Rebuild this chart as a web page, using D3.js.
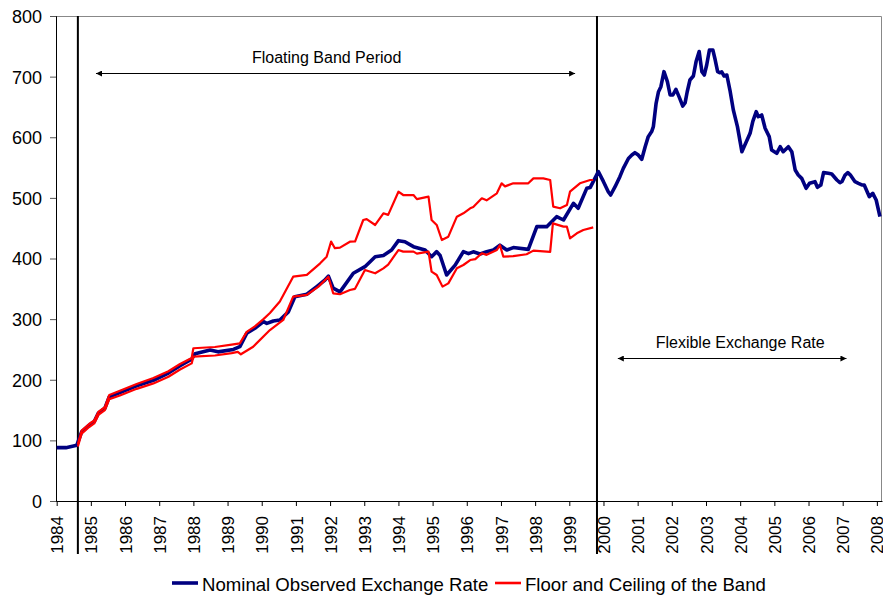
<!DOCTYPE html>
<html>
<head>
<meta charset="utf-8">
<script src="https://cdn.jsdelivr.net/npm/d3@7"></script>
<style>
  body { margin: 0; background: #fff; }
  svg text { font-family: Arial, "Liberation Sans", sans-serif; fill: #000; }
</style>
</head>
<body>
<div id="chart"></div>
<script>
// Year ticks on the x axis
var yearTicks = d3.range(1984, 2009);
var valueTicks = [0, 100, 200, 300, 400, 500, 600, 700, 800];

// Nominal observed exchange rate [decimal year, pesos per dollar]
var observed = [
  [1984.00, 88], [1984.27, 88], [1984.59, 92], [1984.73, 114], [1984.95, 125],
  [1985.10, 131], [1985.22, 145], [1985.41, 153], [1985.54, 172], [1985.85, 179],
  [1986.34, 190], [1986.83, 199], [1987.27, 211], [1987.61, 223], [1987.95, 234],
  [1988.05, 243], [1988.49, 249], [1988.72, 246], [1989.17, 250], [1989.36, 254.5],
  [1989.56, 276.6], [1989.80, 285], [1990.05, 296], [1990.15, 293], [1990.34, 297],
  [1990.53, 298.6], [1990.78, 312], [1990.97, 337], [1991.32, 341], [1991.61, 353.6],
  [1991.85, 364.5], [1991.95, 371], [1992.09, 351], [1992.29, 345], [1992.68, 375.6],
  [1993.02, 386.5], [1993.32, 403], [1993.56, 405], [1993.80, 414], [1994.00, 429.4],
  [1994.19, 427.7], [1994.44, 419.5], [1994.78, 414], [1994.97, 403], [1995.12, 411.3],
  [1995.22, 405], [1995.41, 372.8], [1995.66, 389], [1995.90, 411.3], [1996.05, 408],
  [1996.19, 411], [1996.39, 407.5], [1996.58, 411], [1996.78, 414], [1996.97, 422],
  [1997.17, 414], [1997.36, 418], [1997.80, 415], [1998.05, 452.5], [1998.34, 452.5],
  [1998.63, 469], [1998.83, 463.5], [1999.12, 491], [1999.26, 482.8], [1999.51, 515.7],
  [1999.61, 517], [1999.85, 543.2], [2000.00, 526.7], [2000.14, 510.2], [2000.21, 504.7],
  [2000.34, 518.4], [2000.48, 535], [2000.58, 548.6], [2000.73, 565], [2000.83, 570.7],
  [2000.92, 574.5], [2001.02, 570.7], [2001.12, 563.6], [2001.22, 584.4], [2001.31, 601],
  [2001.41, 609.3], [2001.46, 617.6], [2001.54, 656], [2001.61, 675.1], [2001.68, 683.4],
  [2001.77, 708.2], [2001.87, 691.7], [2001.95, 669.7], [2002.03, 669.7], [2002.12, 679],
  [2002.21, 667], [2002.32, 651.5], [2002.39, 657], [2002.45, 675.1], [2002.53, 694.4],
  [2002.63, 701], [2002.71, 724.8], [2002.80, 741.3], [2002.88, 708.2], [2002.95, 702.7],
  [2003.02, 719.2], [2003.10, 744], [2003.20, 744], [2003.27, 727.4], [2003.34, 708.2],
  [2003.41, 706.4], [2003.46, 708], [2003.53, 701], [2003.61, 702.7], [2003.70, 677.9],
  [2003.80, 645], [2003.92, 617.6], [2004.05, 576.2], [2004.16, 590], [2004.29, 606.5],
  [2004.37, 626.2], [2004.47, 642.2], [2004.53, 633.9], [2004.63, 636.7], [2004.73, 614.8],
  [2004.85, 601], [2004.92, 579], [2005.07, 573.5], [2005.17, 584.4], [2005.26, 576.2],
  [2005.41, 584.4], [2005.51, 576.2], [2005.61, 546], [2005.70, 537.7], [2005.80, 532.2],
  [2005.93, 515.7], [2006.03, 524], [2006.19, 526.7], [2006.26, 517.4], [2006.36, 521.2],
  [2006.44, 541.6], [2006.58, 540.6], [2006.68, 539.4], [2006.83, 529.5], [2006.92, 525],
  [2006.98, 527], [2007.07, 537.7], [2007.15, 541.6], [2007.22, 538], [2007.36, 526.7],
  [2007.46, 524], [2007.56, 521.5], [2007.63, 521.2], [2007.78, 502], [2007.88, 507.5],
  [2007.98, 496.5], [2008.09, 469]
];

// Ceiling of the band
var ceiling = [
  [1984.62, 94], [1984.73, 116], [1984.95, 127], [1985.10, 133], [1985.22, 147],
  [1985.41, 155], [1985.54, 175], [1985.85, 182], [1986.34, 193], [1986.83, 203],
  [1987.27, 214], [1987.61, 226], [1987.95, 236], [1988.00, 252], [1988.63, 254],
  [1989.12, 258], [1989.36, 260], [1989.56, 279], [1989.80, 288], [1990.05, 300],
  [1990.24, 310], [1990.53, 329], [1990.92, 370], [1991.32, 373], [1991.71, 392],
  [1991.90, 403], [1992.03, 428], [1992.14, 417], [1992.29, 418], [1992.58, 427.7],
  [1992.73, 428], [1992.97, 463.5], [1993.07, 465], [1993.32, 455.3], [1993.56, 474.6],
  [1993.70, 472], [1994.00, 510.2], [1994.14, 504.7], [1994.44, 504.7], [1994.54, 498],
  [1994.88, 502], [1994.97, 463.5], [1995.12, 455.3], [1995.27, 430.5], [1995.46, 436],
  [1995.71, 469], [1995.90, 474.6], [1996.10, 482.8], [1996.19, 485], [1996.44, 499.3],
  [1996.58, 496], [1996.88, 507.5], [1997.02, 524], [1997.12, 519], [1997.36, 524],
  [1997.80, 524], [1997.95, 532.2], [1998.24, 532.2], [1998.44, 529.5], [1998.53, 485.5],
  [1998.73, 482.8], [1998.93, 488.2], [1999.02, 510.2], [1999.31, 524], [1999.61, 529.5],
  [1999.70, 529.5]
];

// Floor of the band
var floor = [
  [1984.62, 90], [1984.73, 111], [1984.95, 122], [1985.10, 128], [1985.22, 142],
  [1985.41, 150], [1985.54, 168], [1985.85, 174], [1986.34, 185], [1986.83, 194],
  [1987.27, 205], [1987.61, 217], [1987.95, 227], [1988.00, 238], [1988.63, 240],
  [1989.12, 244], [1989.30, 246], [1989.39, 242], [1989.75, 254.5], [1990.24, 282],
  [1990.63, 298.6], [1990.92, 337], [1991.32, 340], [1991.66, 353.6], [1991.95, 370],
  [1992.09, 342.6], [1992.29, 341], [1992.58, 348], [1992.73, 350], [1993.02, 381],
  [1993.32, 375.6], [1993.56, 383.8], [1993.70, 390], [1994.00, 414], [1994.14, 411.3],
  [1994.44, 411.3], [1994.54, 408], [1994.88, 411.3], [1994.97, 378.3], [1995.12, 372.8],
  [1995.29, 353.6], [1995.46, 359], [1995.71, 383.8], [1995.90, 389.3], [1996.10, 397.5],
  [1996.25, 399], [1996.44, 408.6], [1996.58, 406], [1996.88, 414], [1996.97, 422],
  [1997.07, 403], [1997.36, 404], [1997.75, 407], [1997.95, 413], [1998.44, 411],
  [1998.52, 458], [1998.83, 452.5], [1998.93, 452.5], [1999.02, 433.3], [1999.22, 441.6],
  [1999.41, 447], [1999.70, 451.4]
];

// Regime changes and annotations
var regimeBreaks = [1984.62, 1999.81];
var periodLabels = ['Floating Band Period', 'Flexible Exchange Rate'];
var legendLabels = ['Nominal Observed Exchange Rate', 'Floor and Ceiling of the Band'];

var W = 883, H = 599;
var margin = {top: 16, right: 1, bottom: 98, left: 56};
var width = W - margin.left - margin.right;
var height = H - margin.top - margin.bottom;

var svg = d3.select('#chart').append('svg')
    .attr('width', W)
    .attr('height', H);

var defs = svg.append('defs');
defs.append('marker')
    .attr('id', 'head')
    .attr('viewBox', '0 0 10 10')
    .attr('refX', 10).attr('refY', 5)
    .attr('markerWidth', 8).attr('markerHeight', 6)
    .attr('markerUnits', 'userSpaceOnUse')
    .attr('orient', 'auto-start-reverse')
    .append('path')
    .attr('d', 'M0,0 L10,5 L0,10 Z')
    .attr('fill', '#000');

var g = svg.append('g')
    .attr('transform', 'translate(' + margin.left + ',' + margin.top + ')');

var x = d3.scaleLinear().domain([1983.98, 2008.15]).range([0, width]);
var y = d3.scaleLinear().domain([0, 800]).range([height, 0]);

// Frame: grey top and right
g.append('path')
    .attr('d', 'M0,0.5 H' + (width - 0.5) + ' V' + height)
    .attr('fill', 'none')
    .attr('stroke', '#888')
    .attr('stroke-width', 1);

// Y axis
var yAxis = g.append('g')
    .attr('class', 'y axis')
    .call(d3.axisLeft(y).tickValues(valueTicks).tickSize(6).tickPadding(8));
yAxis.select('.domain').attr('stroke', '#000');
yAxis.selectAll('.tick line').attr('stroke', '#555');
yAxis.selectAll('.tick text')
    .style('font-size', '18px')
    .attr('dy', '0.36em');

// X axis
var xAxis = g.append('g')
    .attr('class', 'x axis')
    .attr('transform', 'translate(0,' + height + ')')
    .call(d3.axisBottom(x).tickValues(yearTicks).tickFormat(d3.format('d')).tickSize(5).tickSizeOuter(0));
xAxis.select('.domain').attr('stroke', '#000');
xAxis.selectAll('.tick line').attr('stroke', '#000');
xAxis.selectAll('.tick text')
    .style('font-size', '17px')
    .style('text-anchor', 'end')
    .attr('transform', 'rotate(-90)')
    .attr('x', -15)
    .attr('y', 0)
    .attr('dy', '0.36em');

// Regime break lines
g.selectAll('line.break')
    .data(regimeBreaks)
    .enter().append('line')
    .attr('class', 'break')
    .attr('x1', function(d) { return x(d); })
    .attr('x2', function(d) { return x(d); })
    .attr('y1', 0)
    .attr('y2', height + 53)
    .attr('stroke', '#000')
    .attr('stroke-width', 2);

var line = d3.line()
    .x(function(d) { return x(d[0]); })
    .y(function(d) { return y(d[1]); });

g.append('path')
    .datum(observed)
    .attr('d', line)
    .attr('fill', 'none')
    .attr('stroke', '#000080')
    .attr('stroke-width', 3.6)
    .attr('stroke-linejoin', 'round');

[ceiling, floor].forEach(function(s) {
    g.append('path')
        .datum(s)
        .attr('d', line)
        .attr('fill', 'none')
        .attr('stroke', '#ff0000')
        .attr('stroke-width', 2.2)
        .attr('stroke-linejoin', 'round');
});

// Period arrows
var arrows = [
    {x0: 1985.15, x1: 1999.17, v: 706, label: periodLabels[0], tx: 1991.9, tv: 722},
    {x0: 2000.42, x1: 2007.11, v: 236, label: periodLabels[1], tx: 2004.0, tv: 252}
];
arrows.forEach(function(a) {
    g.append('line')
        .attr('x1', x(a.x0)).attr('x2', x(a.x1))
        .attr('y1', Math.round(y(a.v)) + 0.5).attr('y2', Math.round(y(a.v)) + 0.5)
        .attr('stroke', '#000')
        .attr('stroke-width', 1)
        .attr('marker-start', 'url(#head)')
        .attr('marker-end', 'url(#head)');
    g.append('text')
        .attr('x', x(a.tx))
        .attr('y', y(a.tv))
        .style('font-size', '16px')
        .style('text-anchor', 'middle')
        .text(a.label);
});

// Legend
var legend = svg.append('g').attr('class', 'legend');
var legendItems = [
    {label: legendLabels[0], color: '#000080', w: 3.6, x0: 172},
    {label: legendLabels[1], color: '#ff0000', w: 2.6, x0: 495}
];
legendItems.forEach(function(d) {
    legend.append('line')
        .attr('x1', d.x0).attr('x2', d.x0 + 26)
        .attr('y1', 583).attr('y2', 583)
        .attr('stroke', d.color)
        .attr('stroke-width', d.w);
    legend.append('text')
        .attr('x', d.x0 + 30)
        .attr('y', 591)
        .style('font-size', '18.6px')
        .text(d.label);
});
</script>
</body>
</html>
